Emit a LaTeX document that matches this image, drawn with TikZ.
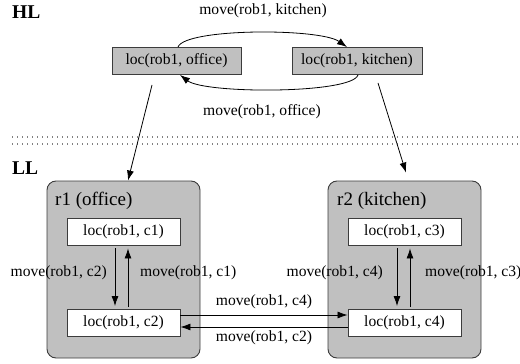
\documentclass[tikz,border=0pt]{standalone}
\usepackage{fontspec}
\setmainfont{Liberation Serif}
\usetikzlibrary{arrows.meta,calc}
\definecolor{boxgray}{RGB}{192,192,192}
\definecolor{boxline}{RGB}{60,60,60}
\begin{document}
\begin{tikzpicture}[x=1pt,y=-1pt,
  lbl/.style={font=\fontsize{15.6}{18}\selectfont, inner sep=0pt},
  hlbox/.style={draw=boxline, fill=boxgray, line width=0.9pt, minimum height=27pt, inner sep=0pt, font=\fontsize{15.6}{18}\selectfont},
  cbox/.style={draw=boxline, fill=white, line width=0.9pt, minimum width=113pt, minimum height=27pt, inner sep=0pt, font=\fontsize{15.6}{18}\selectfont},
  region/.style={draw=boxline, fill=boxgray, line width=0.9pt, rounded corners=9pt, minimum width=153pt, minimum height=177pt, inner sep=0pt},
  reglbl/.style={anchor=base west, inner sep=0pt, font=\fontsize{19}{22}\selectfont},
  level/.style={anchor=base west, inner sep=0pt, font=\fontsize{19.5}{22}\selectfont\bfseries},
  arr/.style={-{Latex[length=10pt,width=7pt]}, line width=0.8pt, draw=black},
  sep/.style={draw=gray, dash pattern=on 1pt off 4pt, line width=1.2pt}
]
\useasboundingbox (0,0) rectangle (520,364);

% level labels
\node[level] (hl) at (12,18) {HL};
\node[level] (ll) at (12,174) {LL};

% separator
\draw[sep] (12,137) -- (520,137);
\draw[sep] (12,144) -- (520,144);

% high level
\node[hlbox, minimum width=129pt] (office) at (176.5,61) {loc(rob1, office)};
\node[hlbox, minimum width=130pt] (kitchen) at (357,61) {loc(rob1, kitchen)};

\draw[arr] ($(office.north)+(1.5,0)$) .. controls (185,28) and (320,28) .. ($(kitchen.north)+(-10,0)$);
\draw[arr] ($(kitchen.south)+(1,0)$) .. controls (352,94) and (205,94) .. ($(office.south)+(3.5,0)$);
\node[lbl] (lk) at (263,11) {move(rob1, kitchen)};
\node[lbl] (lo) at (262,112) {move(rob1, office)};

% regions
\node[region] (r1) at (123.5,269.5) {};
\node[region] (r2) at (404.5,269.5) {};
\node[reglbl] (r1l) at (55,205) {r1 (office)};
\node[reglbl] (r2l) at (337,205) {r2 (kitchen)};

% HL -> LL
\draw[arr] ($(office.south)+(-24.5,10)$) -- ($(r1.north)+(4.5,0)$);
\draw[arr] ($(kitchen.south)+(21,8)$) -- ($(r2.north)+(1.5,-8)$);

% low level cells
\node[cbox] (c1) at (123.5,231.5) {loc(rob1, c1)};
\node[cbox] (c2) at (123.5,323) {loc(rob1, c2)};
\node[cbox] (c3) at (404.5,231.5) {loc(rob1, c3)};
\node[cbox] (c4) at (404.5,323) {loc(rob1, c4)};

\draw[arr, shorten <=3pt, shorten >=3pt] ($(c1.south)+(-8.5,0)$) -- ($(c2.north)+(-8.5,0)$);
\draw[arr, shorten <=2pt, shorten >=3pt] ($(c2.north)+(4.5,0)$) -- ($(c1.south)+(4.5,0)$);
\draw[arr, shorten <=3pt, shorten >=3pt] ($(c3.south)+(-7.5,0)$) -- ($(c4.north)+(-7.5,0)$);
\draw[arr, shorten <=2pt, shorten >=3pt] ($(c4.north)+(5.5,0)$) -- ($(c3.south)+(5.5,0)$);

\draw[arr] ($(c2.east)+(0,-8)$) -- ($(c4.west)+(0,-8)$);
\draw[arr] ($(c4.west)+(0,4)$) -- ($(c2.east)+(0,4)$);

\node[lbl, anchor=east] (lc2) at (107,273) {move(rob1, c2)};
\node[lbl, anchor=west] (lc1) at (140,273) {move(rob1, c1)};
\node[lbl, anchor=east] (lc4) at (383,273) {move(rob1, c4)};
\node[lbl, anchor=west] (lc3) at (425,273) {move(rob1, c3)};
\node[lbl] (lh4) at (264,302) {move(rob1, c4)};
\node[lbl] (lh2) at (264,338) {move(rob1, c2)};
\end{tikzpicture}
\end{document}
